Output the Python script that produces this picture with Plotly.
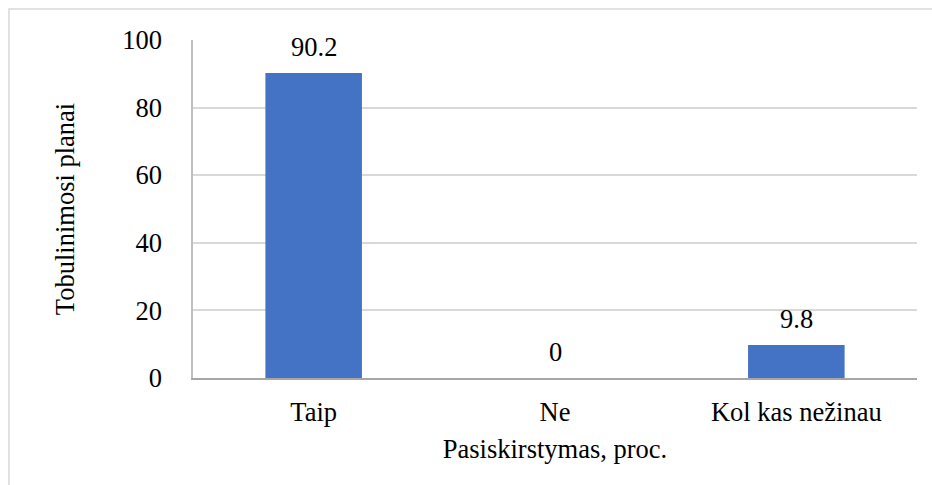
import plotly.graph_objects as go

categories = ["Taip", "Ne", "Kol kas nežinau"]
values = [90.2, 0, 9.8]
value_labels = ["90.2", "0", "9.8"]
y_ticks = [0, 20, 40, 60, 80, 100]

FONT = "Liberation Serif"
FS = 26.5

fig = go.Figure()
fig.add_trace(go.Bar(
    x=categories, y=values,
    marker=dict(color="#4472C4", line=dict(width=0)),
    width=0.4,
    hoverinfo="skip",
))

for c, v, t in zip(categories, values, value_labels):
    fig.add_annotation(x=c, y=v, text=t, showarrow=False, yanchor="bottom",
                       yshift=9, font=dict(family=FONT, size=FS, color="#000000"))

fig.add_shape(type="rect", xref="paper", yref="paper",
              x0=(9 - 193) / 724, x1=1.1, y0=-0.5, y1=(476 - 107) / 338,
              line=dict(color="#D9D9D9", width=1.5), fillcolor="rgba(0,0,0,0)", layer="below")

fig.update_layout(
    width=932, height=485,
    margin=dict(l=193, r=15, t=40, b=107),
    paper_bgcolor="white", plot_bgcolor="white",
    font=dict(family=FONT, size=FS, color="#000000"),
    showlegend=False,
    bargap=0.6,
    xaxis=dict(
        showgrid=False, showline=True, linecolor="#A6A6A6", linewidth=1.5,
        ticks="", ticklabelstandoff=9,
        title=dict(text="Pasiskirstymas, proc.", standoff=14, font=dict(size=FS)),
        tickfont=dict(size=FS),
    ),
    yaxis=dict(
        range=[0, 100], tickvals=y_ticks, showgrid=True, gridcolor="#D9D9D9", gridwidth=1.5,
        showline=True, linecolor="#BFBFBF", linewidth=1.5, zeroline=False,
        ticks="", ticklabelstandoff=24,
        title=dict(text="Tobulinimosi planai", standoff=40, font=dict(size=FS)),
        tickfont=dict(size=FS),
    ),
)

fig.write_html("out.html",
               config={"displayModeBar": False},
               post_script="document.body.style.margin='0';document.body.style.overflow='hidden';")
